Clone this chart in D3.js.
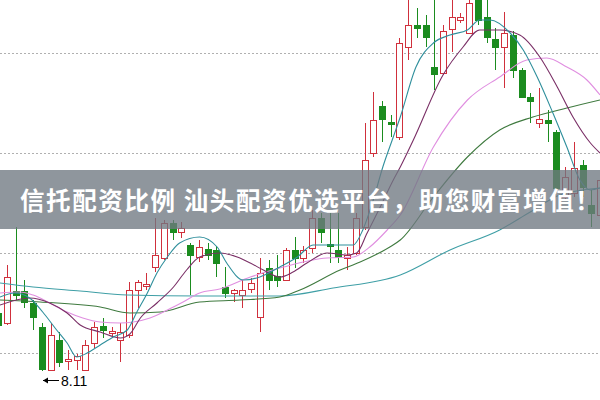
<!DOCTYPE html>
<html>
<head>
<meta charset="utf-8">
<script src="https://cdn.jsdelivr.net/npm/d3@7/dist/d3.min.js"></script>
<style>
html,body{margin:0;padding:0;background:#fff;}
svg{display:block;}
</style>
</head>
<body>
<svg id="chart" width="600" height="400"></svg>
<script>
// ---- data ----
const opens  = [8.400,8.350,8.510,8.510,8.450,8.330,8.115,8.265,8.160,8.165,
                8.115,8.250,8.335,8.300,8.265,8.290,8.515,8.535,8.630,8.675,
                8.850,8.805,8.740,8.680,8.720,8.715,8.530,8.500,8.490,8.520,
                8.380,8.625,8.585,8.565,8.715,8.675,8.725,8.875,8.745,8.715,
                8.675,8.700,8.830,9.200,9.435,9.355,9.280,9.730,9.840,9.840,
                9.630,9.600,9.820,9.865,9.800,9.980,9.880,9.770,9.730,9.790,
                9.615,9.480,9.350,9.365,9.305,8.980,9.000,9.140,8.940,8.890];
const highs  = [8.415,8.640,8.830,8.565,8.465,8.350,8.350,8.305,8.215,8.195,
                8.265,8.355,8.375,8.330,8.350,8.555,8.565,8.600,8.875,8.865,
                8.865,8.855,8.750,8.765,8.750,8.735,8.630,8.520,8.565,8.575,
                8.675,8.665,8.690,8.725,8.780,8.735,8.915,8.900,8.900,8.900,
                8.730,8.900,9.350,9.505,9.460,9.390,9.775,9.990,9.925,9.890,
                10.015,9.840,9.990,9.900,9.990,10.015,9.965,9.825,9.905,9.810,
                9.625,9.500,9.525,9.415,9.315,9.130,9.255,9.165,9.015,9.090];
const lows   = [8.325,8.340,8.465,8.425,8.315,8.110,8.115,8.130,8.115,8.115,
                8.115,8.225,8.275,8.275,8.155,8.275,8.425,8.515,8.605,8.665,
                8.765,8.775,8.490,8.655,8.665,8.580,8.475,8.455,8.425,8.500,
                8.305,8.515,8.530,8.560,8.625,8.650,8.700,8.750,8.650,8.650,
                8.615,8.690,8.815,9.180,9.255,9.280,9.265,9.665,9.775,9.730,
                9.515,9.590,9.705,9.850,9.795,9.840,9.750,9.615,9.525,9.575,
                9.475,9.350,9.325,9.255,9.015,8.965,8.980,8.980,8.830,8.865];
const closes = [8.340,8.580,8.490,8.455,8.380,8.120,8.290,8.155,8.170,8.185,
                8.240,8.330,8.315,8.310,8.305,8.515,8.555,8.545,8.690,8.850,
                8.805,8.825,8.690,8.730,8.690,8.650,8.500,8.515,8.515,8.550,
                8.600,8.565,8.565,8.715,8.675,8.715,8.875,8.805,8.735,8.680,
                8.690,8.875,9.165,9.365,9.370,9.345,9.750,9.840,9.825,9.780,
                9.595,9.810,9.880,9.880,9.950,9.865,9.780,9.730,9.800,9.615,
                9.480,9.460,9.370,9.350,9.025,9.080,9.125,9.030,8.900,9.065];

// moving-average lines: [candle index, value]
const ma5  = [[0.2,8.48],[1.9,8.50],[3.6,8.475],[5.1,8.405],[6.7,8.315],[7.9,8.25],[9.0,8.18],
              [10.2,8.20],[11.7,8.24],[13.2,8.28],[14.8,8.315],[15.9,8.405],[17.1,8.50],[18.2,8.60],
              [19.4,8.68],[20.8,8.75],[23.1,8.78],[25.1,8.73],[26.2,8.65],[28.1,8.565],[30.0,8.58],
              [32.3,8.63],[34.3,8.68],[36.1,8.74],[37.7,8.74],[39.2,8.74],[40.7,8.74],[41.8,8.815],
              [43.0,8.965],[44.1,9.13],[45.3,9.28],[46.1,9.38],[47.9,9.63],[49.9,9.75],[51.8,9.79],
              [53.8,9.815],[55.2,9.865],[56.4,9.865],[58.7,9.80],[60.2,9.715],[61.8,9.58],[63.6,9.40],
              [65.2,9.23],[66.7,9.065],[67.9,9.015],[69.0,9.025]];
const ma10 = [[0.2,8.44],[3.6,8.475],[5.9,8.45],[7.9,8.40],[9.4,8.34],[11.7,8.305],[14.0,8.275],
              [15.1,8.295],[16.3,8.375],[18.2,8.45],[20.1,8.53],[21.6,8.615],[23.1,8.68],[25.4,8.70],
              [27.4,8.68],[28.9,8.65],[30.4,8.615],[32.3,8.58],[33.8,8.605],[35.4,8.65],[37.7,8.70],
              [40.0,8.69],[41.1,8.70],[42.3,8.80],[43.8,8.93],[45.3,9.065],[46.1,9.13],[47.6,9.265],
              [51.0,9.59],[53.3,9.73],[55.2,9.815],[57.5,9.815],[59.8,9.79],[62.1,9.68],[64.1,9.53],
              [65.9,9.38],[67.9,9.25],[69.0,9.20]];
const ma20 = [[0.2,8.50],[2.5,8.505],[4.0,8.49],[5.9,8.45],[7.9,8.405],[9.7,8.375],[11.7,8.355],
              [14.0,8.35],[15.5,8.355],[17.4,8.375],[19.4,8.415],[21.2,8.455],[23.1,8.50],[25.4,8.52],
              [28.9,8.58],[32.7,8.63],[37.7,8.675],[40.7,8.68],[42.6,8.73],[44.6,8.815],[46.1,8.89],
              [49.9,9.23],[53.8,9.465],[57.5,9.58],[60.6,9.665],[62.9,9.675],[65.2,9.63],[67.5,9.565],
              [69.0,9.49]];
const ma30 = [[0.2,8.465],[4.8,8.455],[11.7,8.43],[15.1,8.40],[18.6,8.405],[23.1,8.455],[27.7,8.465],
              [32.3,8.48],[34.6,8.515],[39.2,8.615],[41.5,8.655],[44.9,8.73],[46.1,8.765],[49.9,8.98],
              [53.8,9.18],[57.5,9.315],[61.3,9.38],[65.2,9.425],[69.0,9.465]];
const ma60 = [[0.2,8.55],[4.0,8.53],[9.4,8.51],[14.8,8.49],[23.1,8.485],[28.9,8.485],[32.3,8.485],
              [38.4,8.525],[46.1,8.59],[51.8,8.715],[57.5,8.815],[61.0,8.905],[64.4,8.99],[69.0,9.025]];

const gridLevels = [8.2, 8.7, 9.2, 9.7];
const bannerText = "信托配资比例 汕头配资优选平台，助您财富增值！";

// ---- drawing ----
const W = 600, H = 400;
const svg = d3.select("#chart");
const x = d3.scaleLinear().domain([0, opens.length - 1]).range([-1.8, 600]);
const y = d3.scaleLinear().domain([8.2, 9.7]).range([353, 53]);

const RED = "#d0303c", GREEN = "#1b8c1f";

// grid
svg.append("g").selectAll("line").data(gridLevels).join("line")
  .attr("x1", 0).attr("x2", W)
  .attr("y1", d => Math.round(y(d)) + 0.5).attr("y2", d => Math.round(y(d)) + 0.5)
  .attr("stroke", "#b0b0b0").attr("stroke-width", 1).attr("stroke-dasharray", "2,2");

// candles
const candles = d3.range(opens.length).map(i => ({i, o: opens[i], h: highs[i], l: lows[i], c: closes[i]}));
const bw = 6;
const cg = svg.append("g");
candles.forEach(d => {
  const cx = Math.round(x(d.i)) + 0.5;
  const up = d.c >= d.o;
  const col = up ? RED : GREEN;
  const top = y(Math.max(d.o, d.c)), bot = y(Math.min(d.o, d.c));
  cg.append("line").attr("x1", cx).attr("x2", cx).attr("y1", y(d.h)).attr("y2", y(d.l))
    .attr("stroke", col).attr("stroke-width", 1);
  cg.append("rect")
    .attr("x", cx - bw / 2).attr("y", Math.round(top) + 0.5)
    .attr("width", bw).attr("height", Math.max(1, Math.round(bot - top)))
    .attr("fill", up ? "#fff" : col).attr("stroke", col).attr("stroke-width", 1);
});

// moving averages
const line = d3.line().x(d => x(d[0])).y(d => y(d[1])).curve(d3.curveMonotoneX);
const maDefs = [
  {data: ma60, color: "#3f9fa6"},
  {data: ma30, color: "#3f7a3f"},
  {data: ma20, color: "#e08fe0"},
  {data: ma10, color: "#7a2f66"},
  {data: ma5,  color: "#2f8f9c"}
];
svg.append("g").selectAll("path").data(maDefs).join("path")
  .attr("d", d => line(d.data)).attr("fill", "none")
  .attr("stroke", d => d.color).attr("stroke-width", 1.1);

// low marker
const minLow = d3.min(lows);
const minIdx = lows.indexOf(minLow);
const lx = Math.round(x(minIdx)) + 1, ly = 380.5;
const mk = svg.append("g");
mk.append("line").attr("x1", lx).attr("x2", lx + 16).attr("y1", ly).attr("y2", ly)
  .attr("stroke", "#000").attr("stroke-width", 1);
mk.append("path").attr("d", `M${lx},${ly} l5,-3 l0,6 z`).attr("fill", "#000");
mk.append("text").attr("x", lx + 18).attr("y", ly + 5)
  .attr("font-family", "Liberation Sans, Arial, sans-serif").attr("font-size", 14)
  .attr("fill", "#000").text(d3.format(".2f")(minLow));

// banner
svg.append("rect").attr("x", 0).attr("y", 170).attr("width", W).attr("height", 59)
  .attr("fill", "rgb(112,120,130)").attr("fill-opacity", 0.78);
svg.append("text").attr("x", 20).attr("y", 210)
  .attr("font-family", "Noto Sans CJK SC, sans-serif").attr("font-weight", "bold")
  .attr("font-size", 24.5).attr("letter-spacing", 1.6)
  .attr("fill", "#fff").text(bannerText);
</script>
</body>
</html>
